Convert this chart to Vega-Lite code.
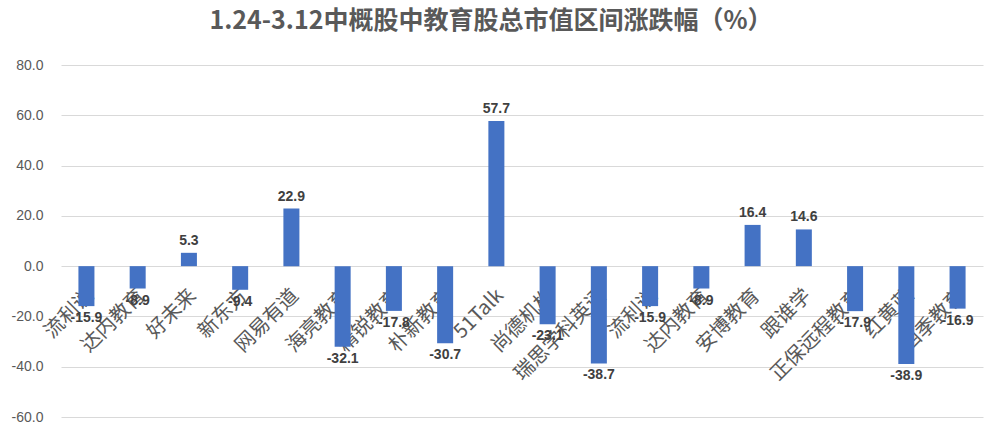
{
  "$schema": "https://vega.github.io/schema/vega-lite/v6.json",
  "width": 922,
  "height": 352,
  "autosize": {"type": "none"},
  "padding": {"left": 61, "top": 65, "right": 15, "bottom": 17},
  "background": "white",
  "config": {
    "view": {"stroke": null},
    "locale": {"number": {"decimal": ".", "thousands": ",", "grouping": [3], "currency": ["$", ""], "minus": "-"}}
  },
  "title": {
    "text": "1.24-3.12中概股中教育股总市值区间涨跌幅（%）",
    "font": "Noto Sans CJK SC",
    "fontSize": 25,
    "fontWeight": "bold",
    "color": "#595959",
    "anchor": "middle",
    "dx": -31,
    "offset": 24
  },
  "data": {
    "values": [
      {"name": "流利说", "value": -15.9},
      {"name": "达内教育", "value": -8.9},
      {"name": "好未来", "value": 5.3},
      {"name": "新东方", "value": -9.4},
      {"name": "网易有道", "value": 22.9},
      {"name": "海亮教育", "value": -32.1},
      {"name": "精锐教育", "value": -17.8},
      {"name": "朴新教育", "value": -30.7},
      {"name": "51Talk", "value": 57.7},
      {"name": "尚德机构", "value": -23.1},
      {"name": "瑞思学科英语", "value": -38.7},
      {"name": "流利说\u200b", "value": -15.9},
      {"name": "达内教育\u200b", "value": -8.9},
      {"name": "安博教育", "value": 16.4},
      {"name": "跟谁学", "value": 14.6},
      {"name": "正保远程教育", "value": -17.9},
      {"name": "红黄蓝", "value": -38.9},
      {"name": "四季教育", "value": -16.9}
    ]
  },
  "encoding": {
    "x": {
      "field": "name",
      "type": "nominal",
      "sort": null,
      "title": null,
      "scale": {"paddingInner": 0.6875, "paddingOuter": 0.34},
      "axis": {
        "orient": "bottom",
        "offset": -151,
        "domain": false,
        "ticks": false,
        "grid": false,
        "labelAngle": -45,
        "labelAlign": "right",
        "labelBaseline": "middle",
        "labelFont": "Noto Sans CJK SC",
        "labelFontSize": 20,
        "labelColor": "#595959",
        "labelPadding": 26,
        "labelOffset": 4,
        "labelOverlap": false
      }
    }
  },
  "layer": [
    {
      "mark": {"type": "bar", "color": "#4472C4"},
      "encoding": {
        "y": {
          "field": "value",
          "type": "quantitative",
          "title": null,
          "scale": {"domain": [-60, 80], "nice": false},
          "axis": {
            "values": [-60, -40, -20, 0, 20, 40, 60, 80],
            "format": ".1f",
            "domain": false,
            "ticks": false,
            "gridColor": "#d9d9d9",
            "gridWidth": 1,
            "labelFont": "Liberation Sans",
            "labelFontSize": 14,
            "labelColor": "#595959",
            "labelPadding": 18
          }
        }
      }
    },
    {
      "transform": [{"filter": "datum.value > 0"}],
      "mark": {"type": "text", "baseline": "bottom", "dy": -5, "font": "Liberation Sans", "fontSize": 14, "fontWeight": "bold", "color": "#404040"},
      "encoding": {
        "y": {"field": "value", "type": "quantitative"},
        "text": {"field": "value", "type": "quantitative", "format": ".1f"}
      }
    },
    {
      "transform": [{"filter": "datum.value < 0"}],
      "mark": {"type": "text", "baseline": "top", "dy": 5, "font": "Liberation Sans", "fontSize": 14, "fontWeight": "bold", "color": "#404040"},
      "encoding": {
        "y": {"field": "value", "type": "quantitative"},
        "text": {"field": "value", "type": "quantitative", "format": ".1f"}
      }
    }
  ]
}
